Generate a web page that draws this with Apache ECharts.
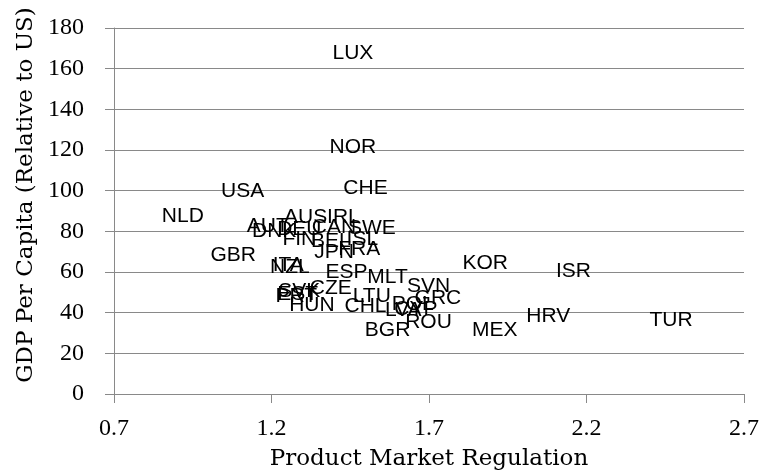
<!DOCTYPE html>
<html>
<head>
<meta charset="utf-8">
<script src="https://cdn.jsdelivr.net/npm/echarts@6/dist/echarts.min.js"></script>
<style>html,body{margin:0;padding:0;background:#fff;}#c{width:764px;height:476px;}</style>
</head>
<body>
<div id="c"></div>
<script>
var countries = ['LUX','NOR','CHE','USA','NLD','AUS','IRL','AUT','DNK','DEU','CAN','SWE','FIN','BEL','ISL','JPN','FRA','GBR','NZL','ITA','ESP','MLT','CZE','SVK','EST','PRT','HUN','LTU','CHL','LVA','POL','CYP','GRC','SVN','ROU','BGR','KOR','ISR','HRV','MEX','TUR'];
var pmr = [1.46,1.46,1.50,1.11,0.92,1.31,1.43,1.19,1.21,1.29,1.40,1.52,1.29,1.39,1.49,1.40,1.48,1.08,1.26,1.255,1.44,1.57,1.39,1.29,1.285,1.28,1.33,1.52,1.50,1.62,1.65,1.66,1.73,1.70,1.70,1.57,1.88,2.16,2.08,1.91,2.47];
var gdp = [167.5,121,101,99.5,87,86.5,86.5,82.5,80,81,82,81.5,76,75,76,69.5,71,68,62,63,59.5,57,51.6,50.5,49,48,43.5,48,43,41,44,41.5,47,53,35,31,64,60,38,31,36];
var xTicks = [0.7,1.2,1.7,2.2,2.7];

var data = countries.map(function(c,i){ return {name:c, value:[pmr[i], gdp[i]]}; });
var chart = echarts.init(document.getElementById('c'));
var serif = '"Liberation Serif", "Times New Roman", serif';
var serifT = '"DejaVu Serif", serif';
chart.setOption({
  animation:false,
  backgroundColor:'#fff',
  grid:{left:114, right:20, top:28, bottom:79},
  xAxis:{
    type:'value', min:xTicks[0], max:xTicks[xTicks.length-1], interval:0.5,
    name:'Product Market Regulation', nameLocation:'middle', nameGap:54,
    nameTextStyle:{fontFamily:serifT, fontSize:23, color:'#000'},
    axisLine:{show:true, lineStyle:{color:'#898989', width:1}},
    axisTick:{show:true, length:9, lineStyle:{color:'#898989'}},
    axisLabel:{fontFamily:serif, fontSize:24, color:'#000', margin:23,
      formatter:function(v){return v.toFixed(1);}},
    splitLine:{show:false}
  },
  yAxis:{
    type:'value', min:0, max:180, interval:20,
    name:'GDP Per Capita (Relative to US)', nameLocation:'middle', nameGap:73,
    nameTextStyle:{fontFamily:serifT, fontSize:23, color:'#000', padding:[0,0,0,32]},
    axisLine:{show:true, lineStyle:{color:'#898989', width:1}},
    axisTick:{show:true, length:9, lineStyle:{color:'#898989'}},
    axisLabel:{fontFamily:serif, fontSize:24, color:'#000', margin:30},
    splitLine:{show:true, lineStyle:{color:'#898989', width:1}}
  },
  series:[{
    type:'scatter',
    data:data,
    symbolSize:1,
    itemStyle:{color:'rgba(255,255,255,0)'},
    label:{show:true, position:[0,0], align:'center', verticalAlign:'middle', formatter:'{b}',
      fontFamily:'"Liberation Sans", Arial, sans-serif', fontSize:21, color:'#000', opacity:1},
    emphasis:{disabled:true}
  }]
});
</script>
</body>
</html>
